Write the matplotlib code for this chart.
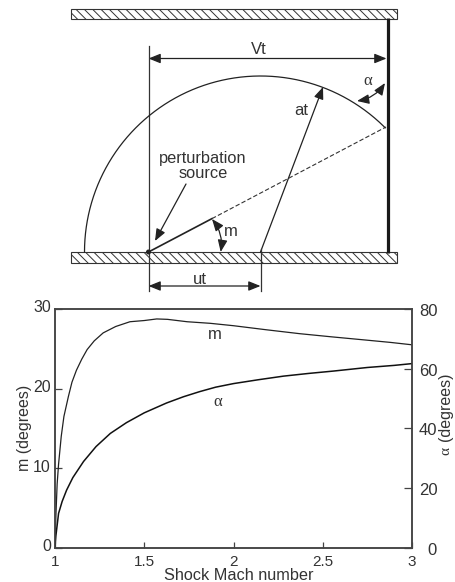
#!/usr/bin/env python3
import numpy as np
import matplotlib
matplotlib.use("Agg")
import matplotlib.pyplot as plt
from matplotlib.patches import Rectangle, FancyArrowPatch, Circle
from matplotlib.transforms import ScaledTranslation

# values
mach_m = [1.0, 1.005, 1.012, 1.02, 1.035, 1.05, 1.075, 1.095, 1.12, 1.15, 1.18, 1.22, 1.27, 1.34, 1.42, 1.5, 1.57, 1.63, 1.74, 1.87, 2.0, 2.18, 2.37, 2.55, 2.74, 2.88, 3.0]
m_deg = [0.0, 4.0, 8.0, 10.5, 14.0, 16.5, 19.0, 20.8, 22.3, 23.7, 24.9, 26.0, 27.0, 27.8, 28.4, 28.55, 28.75, 28.7, 28.4, 28.2, 27.9, 27.4, 26.9, 26.5, 26.1, 25.8, 25.5]
mach_a = [1.0, 1.005, 1.02, 1.04, 1.065, 1.1, 1.16, 1.23, 1.31, 1.4, 1.5, 1.625, 1.72, 1.81, 1.9, 2.0, 2.14, 2.28, 2.42, 2.56, 2.75, 2.9, 3.0]
a_deg = [0.0, 4.0, 11.5, 15.5, 19.3, 23.5, 28.9, 33.9, 38.3, 41.9, 45.2, 48.5, 50.6, 52.3, 53.8, 55.0, 56.3, 57.5, 58.4, 59.2, 60.4, 61.1, 61.7]
m_ticks = [0, 10, 20, 30]
a_ticks = [0, 20, 40, 60, 80]
mach_ticks = [1, 1.5, 2, 2.5, 3]
mach_labels = ["1", "1.5", "2", "2.5", "3"]

W, H = 455, 582
DARK = "#333333"
plt.rcParams["font.family"] = ["Liberation Sans", "DejaVu Sans"]
plt.rcParams["hatch.linewidth"] = 0.7

fig = plt.figure(figsize=(W / 100, H / 100), dpi=100, facecolor="white")

# chart in the lower part
L, R, T, B = 55, 412, 309, 547.7
ax = fig.add_axes([L / W, 1 - B / H, (R - L) / W, (B - T) / H])
ax2 = ax.twinx()
ax.plot(mach_m, m_deg, color="#222222", lw=0.9)
ax2.plot(mach_a, a_deg, color="#111111", lw=1.1)
ax.set_xlim(1, 3)
ax.set_ylim(0, 30)
ax2.set_ylim(0, 80)
ax.set_xticks(mach_ticks, mach_labels)
ax.set_yticks(m_ticks)
ax2.set_yticks(a_ticks)
ax.tick_params(axis="x", direction="in", length=4, width=0.9, color="#444444", labelsize=11, labelcolor=DARK, pad=5)
ax.tick_params(axis="y", direction="in", length=5, width=0.9, color="#444444", labelsize=11.5, labelcolor=DARK, pad=3)
ax2.tick_params(axis="y", direction="in", length=6, width=0.9, color="#444444", labelsize=12, labelcolor=DARK, pad=5)
for a in (ax, ax2):
    for s in a.spines.values():
        s.set_color("#444444")
        s.set_linewidth(1.1)
for lab in ax.get_yticklabels():
    lab.set_transform(lab.get_transform() + ScaledTranslation(0, 0.025, fig.dpi_scale_trans))
for lab, v in zip(ax2.get_yticklabels(), a_ticks):
    dx = 0.08 if v == 0 else 0
    lab.set_transform(lab.get_transform() + ScaledTranslation(dx, -0.01, fig.dpi_scale_trans))
ax.text(1.895, 26.8, "m", ha="center", va="center", fontsize=12, color=DARK)
ax2.text(1.91, 48.9, "α", ha="center", va="center", fontsize=12, color=DARK, family="Liberation Serif")

# overlay in picture pixels for the sketch and the axis titles
ov = fig.add_axes([0, 0, 1, 1], facecolor="none")
ov.set_xlim(0, W)
ov.set_ylim(H, 0)
ov.axis("off")


def txt(x, y, s, **kw):
    kw.setdefault("fontsize", 12)
    kw.setdefault("color", DARK)
    ov.text(x, y, s, ha=kw.pop("ha", "center"), va=kw.pop("va", "center"), **kw)


def arrow(p0, p1, both=False, rad=0.0, lw=0.9):
    head = "head_length=0.72,head_width=0.29"
    style = f"<|-|>,{head}" if both else f"-|>,{head}"
    ov.add_patch(FancyArrowPatch(p0, p1, arrowstyle=style, mutation_scale=10, lw=lw, color="#222222",
                                 shrinkA=0, shrinkB=0, connectionstyle=f"arc3,rad={rad}"))


txt(25, 427.5, "m (degrees)", rotation=90, fontsize=11.5)
txt(446, 407, "(degrees)", rotation=90, fontsize=11.5)
txt(446, 451, "α", rotation=90, fontsize=11, family="Liberation Serif")
txt(239, 575, "Shock Mach number", fontsize=11.7)

# walls
wx0, wx1 = 71, 397
for y0, y1 in ((8.5, 18.5), (252, 263)):
    ov.add_patch(Rectangle((wx0, y0), wx1 - wx0, y1 - y0, facecolor="white", edgecolor="#333333",
                           hatch="\\\\\\\\", lw=0.8))
src = (148.5, 252)
foot = (260.5, 252)
wall_x = 387.5
hit = (386, 127)
rad_px = 176

ov.plot([wall_x, wall_x], [18, 253], color="#1a1a1a", lw=2.3, solid_capstyle="butt")
ov.plot([src[0], src[0]], [46, 291], color="#333333", lw=0.9)
ov.plot([foot[0], foot[0]], [249, 291], color="#333333", lw=0.9)

# wave front
th = np.linspace(np.pi, np.arctan2(foot[1] - hit[1], hit[0] - foot[0]), 200)
ov.plot(foot[0] + rad_px * np.cos(th), foot[1] - rad_px * np.sin(th), color="#222222", lw=0.9)

# source ray, solid then dashed
ov.plot([src[0], 212], [src[1], 218.6], color="#222222", lw=1.2)
ov.plot([212, hit[0]], [218.6, hit[1]], color="#333333", lw=0.8, ls=(0, (4, 2)))
ov.add_patch(Circle(src, 1.8, color="#222222", zorder=5))

arrow((src[0], 58.5), (wall_x - 1, 58.5), both=True)
arrow((src[0], 286), (foot[0], 286), both=True)
arrow(foot, (323, 87))
arrow((186, 184), (155, 241))
arrow((212, 219), (220.7, 252), both=True, rad=-0.22)
arrow((357, 101), (385, 83), both=True, rad=0.22)

txt(259, 49, "Vt")
txt(301, 110.5, "at")
txt(200, 279, "ut")
txt(231, 232, "m")
txt(203, 159, "perturbation", fontsize=11.8)
txt(203, 174, "source", fontsize=11.8)
txt(367.5, 81, "α", family="Liberation Serif")

fig.savefig("out.png", dpi=100)
